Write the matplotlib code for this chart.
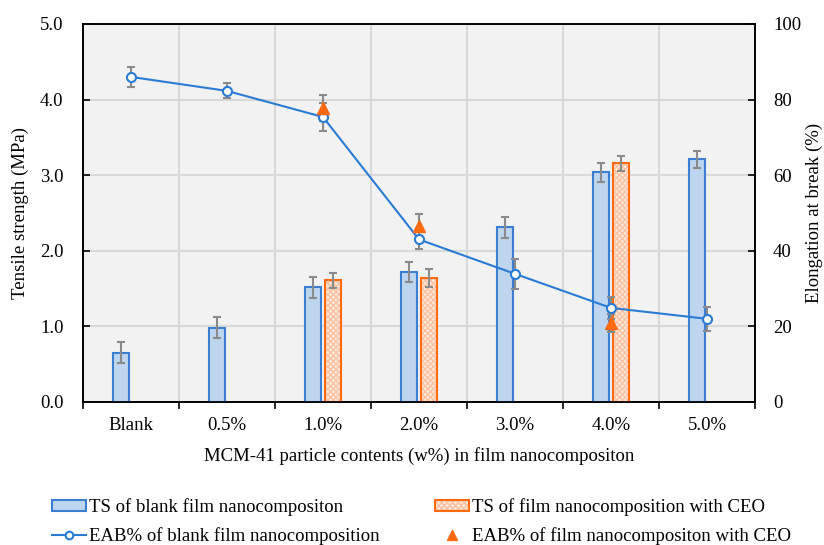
import matplotlib
matplotlib.use("Agg")
import matplotlib.pyplot as plt
import numpy as np
from matplotlib.lines import Line2D
from matplotlib.patches import Patch

plt.rcParams['font.family'] = ['Liberation Serif', 'DejaVu Serif']
plt.rcParams['font.size'] = 13.5

categories = ['Blank', '0.5%', '1.0%', '2.0%', '3.0%', '4.0%', '5.0%']
ts_blank = [0.65, 0.98, 1.52, 1.72, 2.31, 3.04, 3.21]
ts_blank_err = [0.14, 0.14, 0.14, 0.13, 0.14, 0.125, 0.11]
ts_ceo_idx = [2, 3, 5]
ts_ceo = [1.61, 1.64, 3.16]
ts_ceo_err = [0.10, 0.12, 0.10]
eab_blank = [86.0, 82.3, 75.4, 43.0, 33.9, 24.9, 22.0]
eab_blank_err = [2.6, 2.0, 3.7, 2.4, 4.0, 2.9, 3.2]
eab_ceo_idx = [2, 3, 5]
eab_ceo = [77.7, 46.6, 20.9]
eab_ceo_err = [3.4, 3.2, 2.4]

blue_edge = '#3a7fd2'
blue_fill = '#bdd5ef'
orange_edge = '#ff6a10'
orange_fill = '#fde9dc'
hatch_col = '#fbc3a3'
line_col = '#2a7bd4'
err_col = '#8a8a8a'

fig = plt.figure(figsize=(8.24, 5.45), dpi=100)
ax = fig.add_axes([83/824, 1-402/545, (755-83)/824, (402-24)/545])
ax.set_facecolor('#f2f2f2')

x = np.arange(len(categories))
off = 0.104
w = 0.167

ax.bar(x - off, ts_blank, w, color=blue_fill, edgecolor=blue_edge, linewidth=1.5, zorder=3)
xc = x[ts_ceo_idx] + off
ax.bar(xc, ts_ceo, w, color=orange_fill, edgecolor=hatch_col, hatch='xxxxxx', linewidth=0, zorder=3)
ax.bar(xc, ts_ceo, w, color='none', edgecolor=orange_edge, linewidth=1.5, zorder=3.5)
ax.errorbar(x - off, ts_blank, yerr=ts_blank_err, fmt='none', ecolor=err_col, elinewidth=1.5, capsize=3, capthick=1.5, zorder=4)
ax.errorbar(xc, ts_ceo, yerr=ts_ceo_err, fmt='none', ecolor=err_col, elinewidth=1.5, capsize=3, capthick=1.5, zorder=4)

ax.set_xlim(-0.5, len(categories) - 0.5)
ax.set_ylim(0, 5)
ax.set_yticks(np.arange(0, 5.01, 1.0))
ax.set_yticklabels([f'{v:.1f}' for v in np.arange(0, 5.01, 1.0)])
ax.set_xticks(np.arange(-0.5, len(categories), 1.0))
ax.set_xticklabels([])
ax.set_xticks(x, minor=True)
ax.set_xticklabels(categories, minor=True)
ax.tick_params(axis='x', which='major', direction='out', length=5, width=1.2)
ax.tick_params(axis='x', which='minor', length=0, pad=11)
ax.tick_params(axis='y', direction='in', length=5, width=1.2, pad=14)
ax.grid(True, which='major', color='#d9d9d9', linewidth=1.5, zorder=0)
ax.set_axisbelow(True)
for s in ax.spines.values():
    s.set_linewidth(1.2)
    s.set_color('black')
ax.set_ylabel('Tensile strength (MPa)', labelpad=8)
ax.set_xlabel('MCM-41 particle contents (w%) in film nanocompositon', labelpad=9)

ax2 = ax.twinx()
ax2.set_ylim(0, 100)
ax2.set_yticks(np.arange(0, 101, 20))
ax2.tick_params(axis='y', direction='in', length=5, width=1.2, pad=13)
ax2.errorbar(x, eab_blank, yerr=eab_blank_err, fmt='none', ecolor=err_col, elinewidth=1.5, capsize=3, capthick=1.5, zorder=2)
xe = x[eab_ceo_idx]
ax2.errorbar(xe, eab_ceo, yerr=eab_ceo_err, fmt='none', ecolor=err_col, elinewidth=1.5, capsize=3, capthick=1.5, zorder=2)
ax2.plot(x, eab_blank, '-o', color=line_col, lw=1.5, markersize=6.5, markerfacecolor='white',
         markeredgecolor=line_col, markeredgewidth=1.5, zorder=3)
ax2.plot(xe, eab_ceo, '^', color=orange_edge, markersize=8, linestyle='none', zorder=4)
ax2.set_ylabel('Elongation at break (%)', labelpad=3)
for s in ax2.spines.values():
    s.set_linewidth(1.2)

handles = [
    Patch(facecolor=blue_fill, edgecolor=blue_edge, linewidth=1.5),
    Line2D([], [], color=line_col, lw=1.5, marker='o', markersize=5.5, markerfacecolor='white',
           markeredgecolor=line_col, markeredgewidth=1.5),
    (Patch(facecolor=orange_fill, edgecolor=hatch_col, linewidth=0, hatch='xxxxxx'),
     Patch(facecolor='none', edgecolor=orange_edge, linewidth=1.5)),
    Line2D([], [], color=orange_edge, marker='^', markersize=7, linestyle='none'),
]
labels = ['TS of blank film nanocompositon', 'EAB% of blank film nanocomposition',
          'TS of film nanocomposition with CEO', 'EAB% of film nanocompositon with CEO']
leg = fig.legend(handles, labels, ncol=2, loc='upper left', bbox_to_anchor=(52/824, 1-498/545),
                 frameon=False, handlelength=1.8, handleheight=0.55, handletextpad=0.15,
                 columnspacing=3.0, labelspacing=0.6, borderaxespad=0, borderpad=0)

fig.savefig('out.png', dpi=100)
